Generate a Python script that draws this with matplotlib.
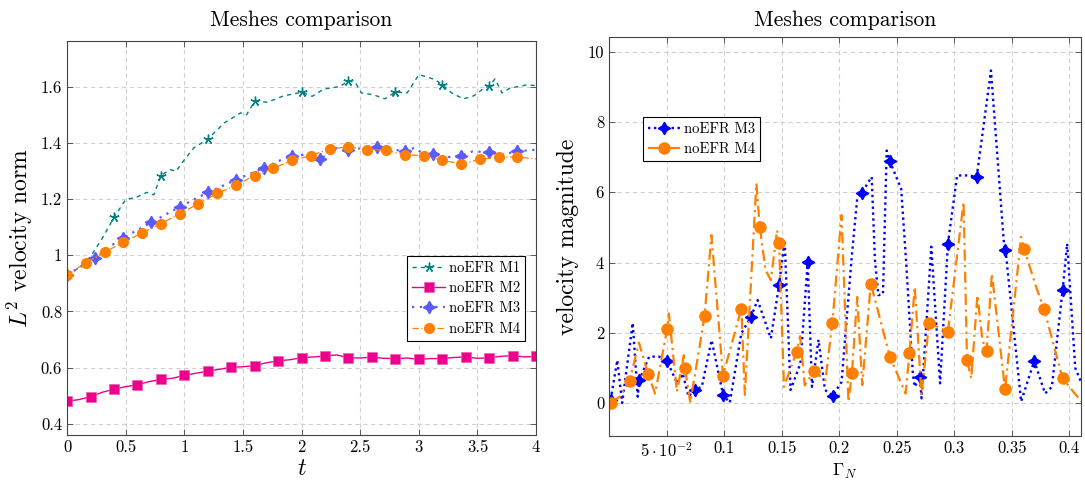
import numpy as np
import matplotlib.pyplot as plt

plt.rcParams["font.family"] = "cmr10"
plt.rcParams["mathtext.fontset"] = "cm"
plt.rcParams["axes.unicode_minus"] = False
plt.rcParams["axes.formatter.use_mathtext"] = True

# %% left: L2 norm over time
m1_t = [0.00, 0.10, 0.20, 0.30, 0.40, 0.50, 0.60, 0.68, 0.74, 0.80, 0.88, 0.93, 1.00, 1.08,
        1.20, 1.34, 1.48, 1.53, 1.60, 1.71, 1.85, 2.00, 2.09, 2.19, 2.33, 2.40, 2.46, 2.51,
        2.61, 2.71, 2.80, 2.90, 3.00, 3.07, 3.14, 3.20, 3.28, 3.38, 3.47, 3.54, 3.60, 3.65,
        3.71, 3.78, 3.86, 3.92, 4.00]
m1_v = [0.930, 0.955, 0.995, 1.060, 1.135, 1.198, 1.208, 1.224, 1.215, 1.284, 1.305, 1.299,
        1.340, 1.382, 1.414, 1.471, 1.507, 1.500, 1.548, 1.545, 1.568, 1.580, 1.566, 1.592,
        1.601, 1.622, 1.614, 1.578, 1.572, 1.557, 1.581, 1.578, 1.643, 1.635, 1.625, 1.607,
        1.578, 1.557, 1.568, 1.590, 1.604, 1.628, 1.578, 1.596, 1.601, 1.607, 1.604]
m1_marks = [0.0, 0.4, 0.8, 1.2, 1.6, 2.0, 2.4, 2.8, 3.2, 3.6]

m2_t = [round(0.1 * i, 1) for i in range(41)]
m2_v = [0.480, 0.486, 0.496, 0.512, 0.523, 0.532, 0.539, 0.550, 0.558, 0.562, 0.572, 0.580,
        0.587, 0.594, 0.601, 0.603, 0.607, 0.617, 0.624, 0.628, 0.635, 0.638, 0.641, 0.645,
        0.635, 0.634, 0.637, 0.633, 0.632, 0.634, 0.629, 0.632, 0.632, 0.636, 0.638, 0.633,
        0.635, 0.640, 0.643, 0.638, 0.640]
m2_marks = [round(0.2 * i, 1) for i in range(21)]

m3_t = [0.00, 0.12, 0.24, 0.36, 0.48, 0.60, 0.72, 0.84, 0.96, 1.08, 1.20, 1.32, 1.44, 1.56,
        1.68, 1.80, 1.92, 2.04, 2.16, 2.28, 2.40, 2.52, 2.64, 2.76, 2.88, 2.96, 3.04, 3.12,
        3.20, 3.36, 3.46, 3.60, 3.70, 3.84, 4.00]
m3_v = [0.930, 0.960, 0.991, 1.030, 1.062, 1.090, 1.117, 1.145, 1.172, 1.198, 1.224, 1.246,
        1.269, 1.290, 1.311, 1.335, 1.355, 1.358, 1.341, 1.382, 1.374, 1.382, 1.386, 1.376,
        1.372, 1.382, 1.362, 1.362, 1.347, 1.355, 1.370, 1.367, 1.358, 1.370, 1.376]
m3_marks = [0.0, 0.24, 0.48, 0.72, 0.96, 1.20, 1.44, 1.68, 1.92, 2.16, 2.40, 2.64, 2.88,
            3.12, 3.36, 3.60, 3.84]

m4_t = [round(0.16 * i, 2) for i in range(25)] + [4.00]
m4_v = [0.930, 0.973, 1.011, 1.046, 1.080, 1.113, 1.147, 1.184, 1.220, 1.249, 1.284, 1.310,
        1.338, 1.355, 1.379, 1.386, 1.376, 1.374, 1.358, 1.355, 1.338, 1.326, 1.341, 1.350,
        1.350, 1.343]
m4_marks = [round(0.16 * i, 2) for i in range(25)]

# %% right: velocity magnitude over Gamma_N
r3_g = [0.0014, 0.0072, 0.0114, 0.0206, 0.0249, 0.0263, 0.0349, 0.0434, 0.0506, 0.0591,
        0.0640, 0.0691, 0.0743, 0.0806, 0.0891, 0.0991, 0.1049, 0.1149, 0.1234, 0.1291,
        0.1406, 0.1477, 0.1526, 0.1577, 0.1663, 0.1726, 0.1763, 0.1820, 0.1876, 0.1944,
        0.2020, 0.2106, 0.2156, 0.2194, 0.2282, 0.2310, 0.2340, 0.2380, 0.2412, 0.2440,
        0.2538, 0.2580, 0.2640, 0.2656, 0.2700, 0.2715, 0.2800, 0.2876, 0.2944, 0.3024,
        0.3126, 0.3194, 0.3318, 0.3435, 0.3444, 0.3580, 0.3694, 0.3788, 0.3847, 0.3940,
        0.3980, 0.4050, 0.4100]
r3_v = [0.09, 1.22, 0.00, 2.28, 0.18, 0.65, 1.32, 1.32, 1.19, 0.56,
        0.84, 0.18, 0.37, 0.46, 1.79, 0.23, 0.01, 1.98, 2.46, 2.93,
        1.84, 3.36, 4.63, 0.37, 1.13, 4.02, 0.46, 1.80, 0.37, 0.21,
        0.60, 4.07, 5.82, 5.98, 6.44, 4.07, 3.07, 3.10, 7.19, 6.88,
        6.10, 4.07, 0.80, 0.46, 0.75, 0.13, 4.45, 0.56, 4.54, 6.48,
        6.48, 6.44, 9.47, 4.35, 4.37, 0.04, 1.20, 0.27, 0.46, 3.21,
        4.54, 1.00, 0.60]
r3_marks = [0.0014, 0.0263, 0.0506, 0.0743, 0.0991, 0.1234, 0.1477, 0.1726, 0.1944, 0.2194,
            0.2440, 0.2700, 0.2944, 0.3194, 0.3444, 0.3694, 0.3940]

r4_g = [0.0020, 0.0100, 0.0180, 0.0260, 0.0340, 0.0400, 0.0506, 0.0520, 0.0590, 0.0650,
        0.0660, 0.0706, 0.0830, 0.0890, 0.0990, 0.1150, 0.1180, 0.1280, 0.1310, 0.1360,
        0.1406, 0.1460, 0.1477, 0.1520, 0.1630, 0.1660, 0.1700, 0.1780, 0.1880, 0.1940,
        0.2020, 0.2080, 0.2110, 0.2156, 0.2200, 0.2274, 0.2440, 0.2576, 0.2610, 0.2656,
        0.2715, 0.2780, 0.2944, 0.3080, 0.3110, 0.3147, 0.3200, 0.3244, 0.3280, 0.3326,
        0.3440, 0.3580, 0.3606, 0.3715, 0.3780, 0.3940, 0.4103]
r4_v = [0.01, 0.20, 0.64, 1.72, 0.82, 0.27, 2.12, 2.55, 0.32, 1.36,
        0.99, 0.01, 2.47, 4.78, 0.78, 2.69, 0.23, 6.25, 5.00, 3.78,
        3.50, 4.92, 4.57, 0.46, 1.46, 1.90, 0.50, 0.90, 0.65, 2.28,
        5.35, 0.04, 0.84, 3.02, 0.51, 3.40, 1.32, 0.27, 1.41, 3.31,
        0.23, 2.28, 2.03, 5.72, 1.22, 0.70, 3.07, 1.79, 1.49, 3.69,
        0.39, 4.73, 4.38, 3.26, 2.67, 0.70, 0.04]
r4_marks = [0.0020, 0.0180, 0.0340, 0.0506, 0.0660, 0.0830, 0.0990, 0.1150, 0.1310, 0.1477,
            0.1630, 0.1780, 0.1940, 0.2110, 0.2274, 0.2440, 0.2610, 0.2780, 0.2944, 0.3110,
            0.3280, 0.3440, 0.3606, 0.3780, 0.3940]

teal = "#008080"
pink = "#ec008c"
lblue = "#5a5aff"
blue = "#0000ff"
orange = "#ff8000"
star4 = (4, 1, 0)


def mask(x, marks):
    return np.isin(np.round(x, 4), np.round(marks, 4))


fig = plt.figure(figsize=(10.85, 4.8), dpi=100)
ax1 = fig.add_axes([0.0618, 0.0938, 0.4323, 0.8208])
ax2 = fig.add_axes([0.5613, 0.0917, 0.4350, 0.8310])

ax1.plot(m1_t, m1_v, color=teal, ls=(0, (3, 3)), lw=1.0, marker=(5, 2, 0), ms=7, mew=1.0,
         markevery=list(mask(m1_t, m1_marks)), label="noEFR M1")
ax1.plot(m2_t, m2_v, color=pink, ls="-", lw=1.0, marker="s", ms=7.5, mec="#f060b0", mew=0.5,
         markevery=list(mask(m2_t, m2_marks)), label="noEFR M2")
ax1.plot(m3_t, m3_v, color=lblue, ls=(0, (1, 2.5)), lw=1.6, marker=star4, ms=9,
         markevery=list(mask(m3_t, m3_marks)), label="noEFR M3")
ax1.plot(m4_t, m4_v, color=orange, ls=(0, (5, 2, 1, 2)), lw=0.9, marker="o", ms=8, mew=0,
         markevery=list(mask(m4_t, m4_marks)), label="noEFR M4")

ax1.set_xlim(0, 4)
ax1.set_ylim(0.36, 1.763)
ax1.set_xticks(np.arange(0, 4.01, 0.5))
ax1.set_xticklabels(["0", "0.5", "1", "1.5", "2", "2.5", "3", "3.5", "4"])
ax1.set_yticks([0.4, 0.6, 0.8, 1.0, 1.2, 1.4, 1.6])
ax1.set_yticklabels(["0.4", "0.6", "0.8", "1", "1.2", "1.4", "1.6"])
ax1.set_title("Meshes comparison", fontsize=15.5, pad=11)
ax1.set_xlabel(r"$t$", fontsize=17, labelpad=2)
ax1.set_ylabel(r"$L^2$ velocity norm", fontsize=17, labelpad=4)
leg1 = ax1.legend(loc="lower right", bbox_to_anchor=(0.977, 0.239), borderaxespad=0,
                  fontsize=10.5, frameon=True, fancybox=False, handlelength=2.2,
                  handletextpad=0.3, borderpad=0.35, labelspacing=0.45)

ax2.plot(r3_g, r3_v, color=blue, ls=(0, (1, 1.5)), lw=1.7, marker=star4, ms=9,
         markevery=list(mask(r3_g, r3_marks)), label="noEFR M3")
ax2.plot(r4_g, r4_v, color=orange, ls=(0, (5, 2, 1, 2)), lw=1.6, marker="o", ms=9, mew=0,
         markevery=list(mask(r4_g, r4_marks)), label="noEFR M4")

ax2.set_xlim(0, 0.41)
ax2.set_ylim(-0.94, 10.42)
ax2.set_xticks([0.05, 0.1, 0.15, 0.2, 0.25, 0.3, 0.35, 0.4])
ax2.set_xticklabels([r"$5\cdot10^{-2}$", "0.1", "0.15", "0.2", "0.25", "0.3", "0.35", "0.4"])
ax2.set_yticks([0, 2, 4, 6, 8, 10])
ax2.set_yticklabels(["0", "2", "4", "6", "8", "10"])
ax2.set_title("Meshes comparison", fontsize=15.5, pad=8)
ax2.set_xlabel(r"$\Gamma_N$", fontsize=13, labelpad=2)
ax2.set_ylabel("velocity magnitude", fontsize=17, labelpad=6)
leg2 = ax2.legend(loc="upper left", bbox_to_anchor=(0.071, 0.799), borderaxespad=0,
                  fontsize=10.5, frameon=True, fancybox=False, handlelength=2.2,
                  handletextpad=0.3, borderpad=0.35, labelspacing=0.45)

for ax in (ax1, ax2):
    ax.grid(True, color="#d0d0d0", ls=(0, (4, 3)), lw=0.8)
    ax.tick_params(direction="in", top=True, right=True, length=4, width=0.6,
                   labelsize=12, color="#444444")
    for s in ax.spines.values():
        s.set_color("#444444")
        s.set_linewidth(0.8)
for leg in (leg1, leg2):
    leg.get_frame().set_edgecolor("black")
    leg.get_frame().set_linewidth(0.8)
    leg.get_frame().set_alpha(1)

fig.savefig("out.png", dpi=100)
